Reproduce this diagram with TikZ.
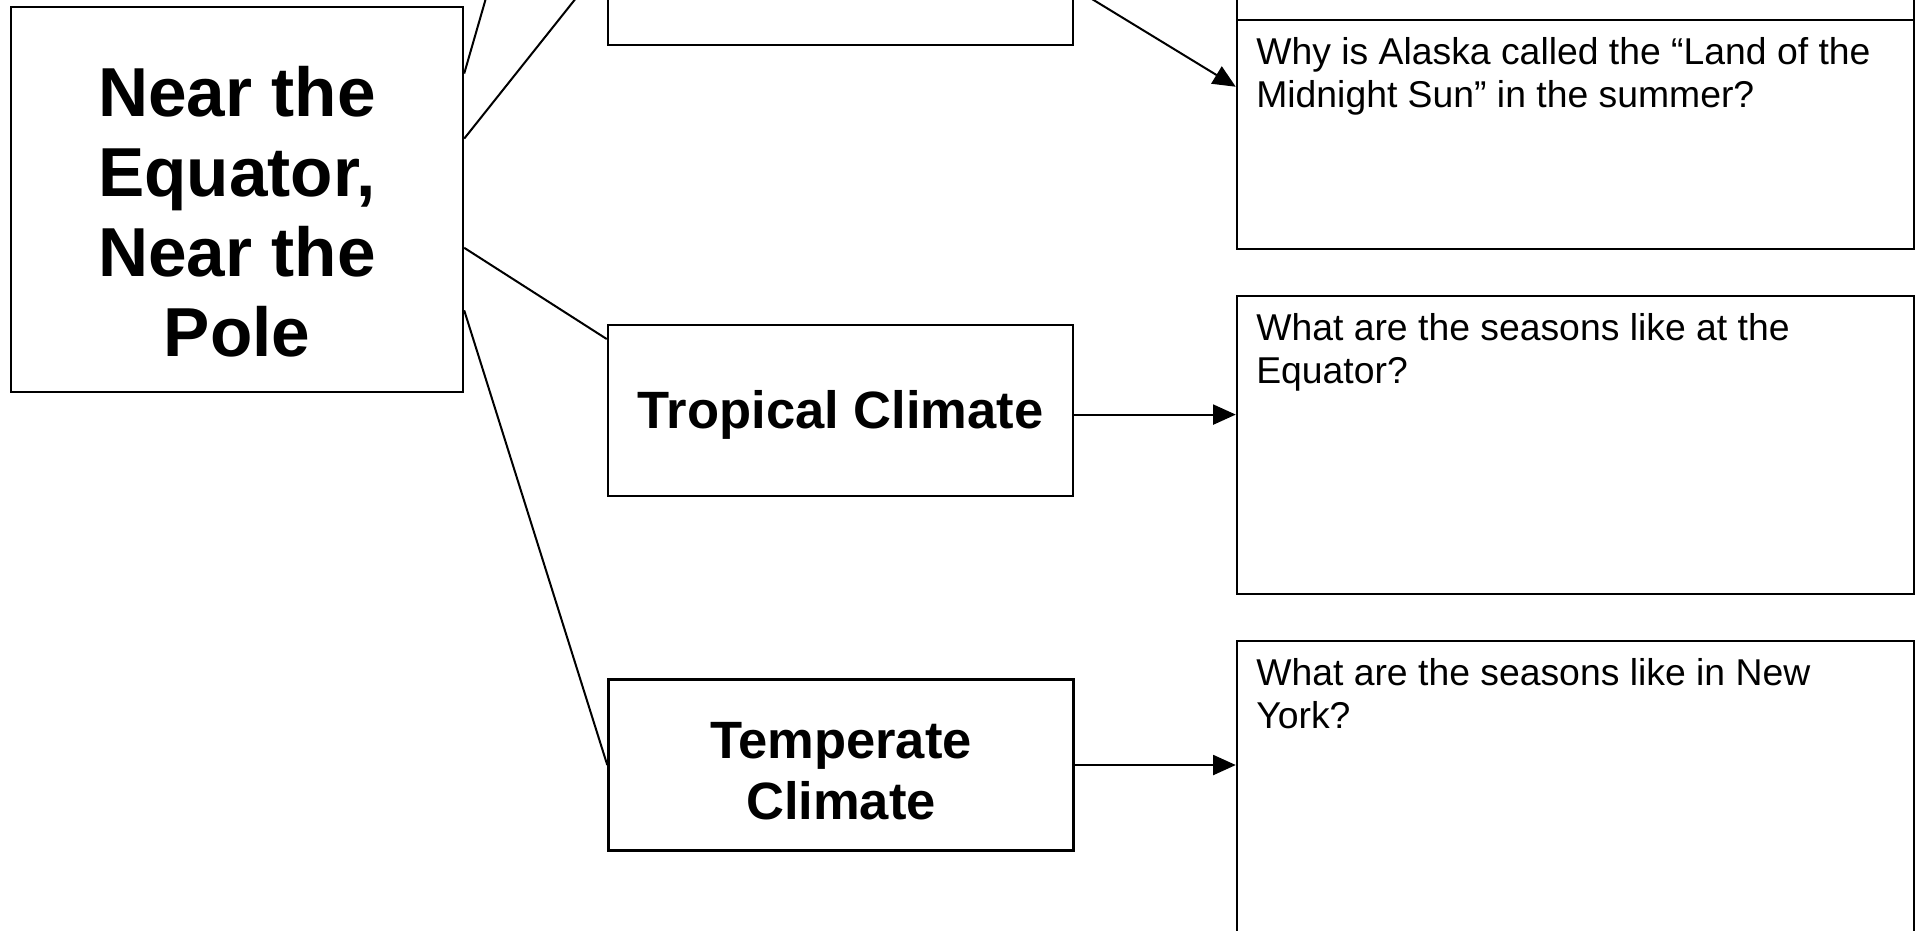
\documentclass[tikz,border=0pt]{standalone}
\usepackage{fontspec}
\setmainfont{Liberation Sans}
\usetikzlibrary{arrows.meta}

\begin{document}
\begin{tikzpicture}[
        x=0.375pt, y=-0.375pt,
        big box/.style = {
            draw,
            line width=0.9pt,
            minimum width=169.5pt,
            minimum height=144.4pt},
        big text/.style = {
            anchor=center,
            yshift=-4.5pt,
            inner sep=0pt,
            align=center,
            font=\fontsize{26}{30}\selectfont\bfseries},
        climate box/.style = {
            draw,
            line width=0.9pt,
            minimum width=174.4pt,
            minimum height=64.1pt,
            align=center,
            font=\fontsize{19.7}{22.7}\selectfont\bfseries},
        question box/.style = {
            draw,
            line width=0.9pt,
            minimum width=253.9pt},
        question text/.style = {
            anchor=north west,
            xshift=7.5pt,
            yshift=-6.75pt,
            inner sep=0pt,
            align=left,
            font=\fontsize{14}{16.1}\selectfont},
        link/.style = {line width=0.75pt},
        arrow link/.style = {link, -{Triangle[length=8.5pt,width=7.5pt]}}
    ]
    \useasboundingbox (0,0) rectangle (1921,930);
    \clip (0,0) rectangle (1921,930);

    \node[big box, label={[big text]center:Near the\\Equator,\\Near the\\Pole}] (main) at (237,199.5) {};

    \node[climate box] (topmid) at (840.5,-40.5) {};
    \node[climate box, text depth=1pt] (trop) at (840.5,410.5) {Tropical Climate};
    \node[climate box, text height=41pt] (temp) at (841,765) {Temperate\\Climate};

    \node[question box, minimum height=85.5pt] (qtop) at (1575.5,-94) {};
    \node[question box, minimum height=85.9pt,
        label={[question text]north west:Why is Alaska called the “Land of the\\Midnight Sun” in the summer?}] (qalaska) at (1575.5,134.5) {};
    \node[question box, minimum height=111.75pt,
        label={[question text]north west:What are the seasons like at the\\Equator?}] (qeq) at (1575.5,445) {};
    \node[question box, minimum height=111.75pt,
        label={[question text]north west:What are the seasons like in New\\York?}] (qny) at (1575.5,790) {};

    \coordinate (offtop) at (608,-425);

    \draw[link] (main.29.4) -- (offtop);
    \draw[link] (main.15.9) -- (topmid.west);
    \draw[link] (main.-12.8) -- (trop.163.8);
    \draw[link] (main.-26.7) -- (temp.west);
    \draw[arrow link] (topmid.-7.5) -- (qalaska.172.8);
    \draw[arrow link] (trop.-1.6) -- (trop.-1.6 -| qeq.west);
    \draw[arrow link] (temp.-0.7) -- (temp.-0.7 -| qny.west);
\end{tikzpicture}
\end{document}
